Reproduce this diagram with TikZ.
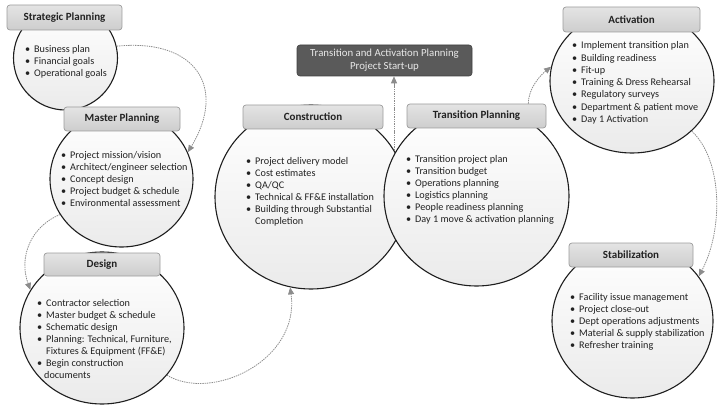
\documentclass[tikz,border=0pt]{standalone}
\usepackage{fontspec}
\setmainfont{Carlito}
\usetikzlibrary{shapes.geometric,arrows.meta}
\definecolor{rim}{HTML}{1E1E1E}
\definecolor{hdrline}{HTML}{9C9C9C}
\definecolor{hdrtop}{HTML}{E4E4E4}
\definecolor{hdrbot}{HTML}{CDCDCD}
\definecolor{conncol}{HTML}{8C8C8C}
\definecolor{darkbox}{HTML}{5A5A5A}
\definecolor{darktext}{HTML}{E8E8E8}
\definecolor{txt}{HTML}{222222}
\newcommand\bitem{\makebox[9pt][l]{\textbullet}}
\newcommand\hang{\hspace*{9pt}}
\begin{document}
\begin{tikzpicture}[x=1pt,y=-1pt,
  phase/.style={ellipse, draw=rim, line width=1.1pt, top color=white, bottom color=black!8, inner sep=0pt},
  hdr/.style={rectangle, rounded corners=3pt, draw=hdrline, line width=0.7pt, top color=hdrtop, bottom color=hdrbot, font=\fontsize{11}{12}\selectfont\bfseries, text=txt, inner sep=0pt},
  lst/.style={anchor=north west, inner sep=0pt, align=left, font=\fontsize{10.2}{12}\selectfont, text=txt},
  flow/.style={draw=conncol, line width=0.8pt, dash pattern=on 1.4pt off 0.9pt, -{Triangle[length=7pt,width=6pt,fill=conncol]}}
]
\useasboundingbox (0,0) rectangle (720,406);

% phase shapes
\node[phase, minimum width=104pt, minimum height=104pt] (sp) at (65.5,58) {};
\node[phase, minimum width=143pt, minimum height=136pt] (mp) at (121.5,179) {};
\node[phase, minimum width=164pt, minimum height=152pt] (ds) at (102,328) {};
\node[phase, minimum width=192pt, minimum height=184pt] (cs) at (311,197) {};
\node[phase, minimum width=185pt, minimum height=180pt] (tp) at (476.5,196) {};
\node[phase, minimum width=164pt, minimum height=144pt] (ac) at (632,81) {};
\node[phase, minimum width=161pt, minimum height=154pt] (st) at (632.5,321) {};

% headers
\node[hdr, minimum width=115pt, minimum height=25pt] (sph) at (64.5,17.5) {Strategic Planning};
\node[hdr, minimum width=116pt, minimum height=24pt] (mph) at (122,119) {Master Planning};
\node[hdr, minimum width=116pt, minimum height=23pt] (dsh) at (102,264.5) {Design};
\node[hdr, minimum width=140pt, minimum height=24pt] (csh) at (313,117) {Construction};
\node[hdr, minimum width=139pt, minimum height=24pt] (tph) at (476.5,116) {Transition Planning};
\node[hdr, minimum width=137pt, minimum height=25pt] (ach) at (631.5,19.5) {Activation};
\node[hdr, minimum width=124pt, minimum height=24pt] (sth) at (631,255) {Stabilization};

\node[rectangle, rounded corners=3pt, draw=black!75, line width=0.6pt, fill=darkbox, text=darktext,
  minimum width=175pt, minimum height=31pt, inner sep=0pt, align=center,
  font=\fontsize{10.8}{13}\selectfont] (tb) at (384.5,60.5) {Transition and Activation Planning\\Project Start-up};

% connectors
\coordinate (lens) at (394,150);
\draw[flow] (sp.13) .. controls +(80,-8) and +(39,-64) .. (mp.22);
\draw[flow] (mp.210) .. controls +(-29,12) and +(-12,-33) .. (ds.152);
\draw[flow] (ds.-36) .. controls +(45,27) and +(10,73) .. (cs.-103);
\draw[flow] ([xshift=-18pt]tph.north east) .. controls +(0,-16) and +(-10,8) .. (ac.170);
\draw[flow] (ac.-40) .. controls +(32,30) and +(24,-45) .. (st.34);
\draw[flow] (lens) -- (lens |- tb.south);

% lists
\node[lst] (spl) at (25,45) {\bitem Business plan\\ \bitem Financial goals\\ \bitem Operational goals};
\node[lst] (mpl) at (61,151.5) {\bitem Project mission/vision\\ \bitem Architect/engineer selection\\ \bitem Concept design\\ \bitem Project budget \& schedule\\ \bitem Environmental assessment};
\node[lst] (dsl) at (37,299.5) {\bitem Contractor selection\\ \bitem Master budget \& schedule\\ \bitem Schematic design\\ \bitem Planning: Technical, Furniture,\\ \hang Fixtures \& Equipment (FF\&E)\\ \bitem Begin construction\\ \hspace*{7pt}documents};
\node[lst] (csl) at (246,157.5) {\bitem Project delivery model\\ \bitem Cost estimates\\ \bitem QA/QC\\ \bitem Technical \& FF\&E installation\\ \bitem Building through Substantial\\ \hang Completion};
\node[lst] (tpl) at (406,155.5) {\bitem Transition project plan\\ \bitem Transition budget\\ \bitem Operations planning\\ \bitem Logistics planning\\ \bitem People readiness planning\\ \bitem Day 1 move \& activation planning};
\node[lst, font=\fontsize{10.2}{12.3}\selectfont] (acl) at (572,41.5) {\bitem Implement transition plan\\ \bitem Building readiness\\ \bitem Fit-up\\ \bitem Training \& Dress Rehearsal\\ \bitem Regulatory surveys\\ \bitem Department \& patient move\\ \bitem Day 1 Activation};
\node[lst] (stl) at (570,293.5) {\bitem Facility issue management\\ \bitem Project close-out\\ \bitem Dept operations adjustments\\ \bitem Material \& supply stabilization\\ \bitem Refresher training};
\end{tikzpicture}
\end{document}
